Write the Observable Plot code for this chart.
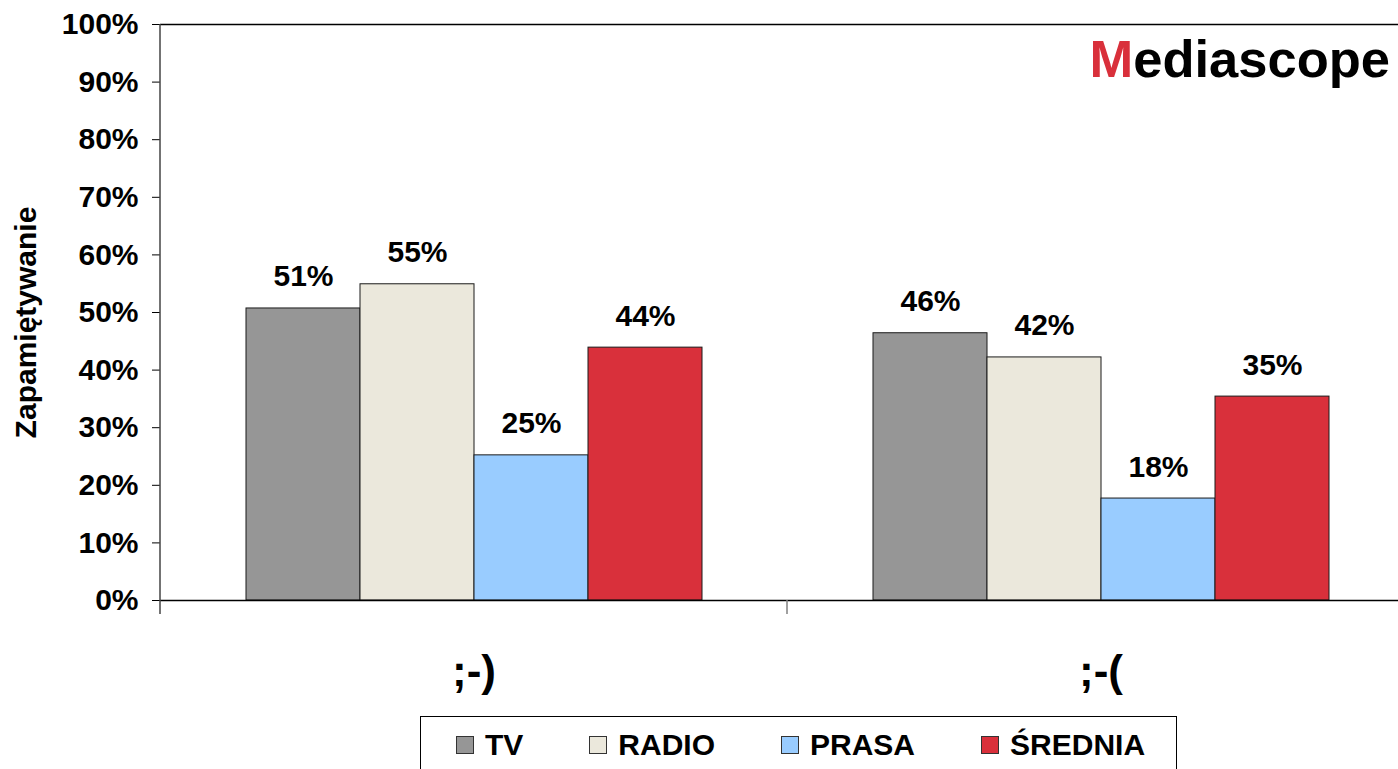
<!DOCTYPE html>
<html>
<head>
<meta charset="utf-8">
<script src="https://cdn.jsdelivr.net/npm/d3@7"></script>
<script src="https://cdn.jsdelivr.net/npm/@observablehq/plot@0.6"></script>
<style>
  html, body { margin: 0; padding: 0; background: #fff; }
  body { width: 1398px; height: 769px; overflow: hidden; position: relative; font-family: Arial, "Liberation Sans", sans-serif; }
  #chart { position: absolute; left: 0; top: 0; }
  #logo { position: absolute; right: 8px; top: 33px; font-size: 52.5px; line-height: 52px; font-weight: bold; color: #000; white-space: nowrap; }
  #legend { position: absolute; left: 420px; top: 716px; width: 757px; height: 80px; box-sizing: border-box; border: 1.5px solid #000;
            display: flex; gap: 66px; padding: 13px 0 0 35px; align-items: flex-start; }
  .item { display: flex; align-items: center; height: 30px; }
  .sw { width: 16px; height: 16px; border: 1px solid #333; margin-right: 11px; }
  .lab { font-size: 30px; line-height: 30px; font-weight: bold; color: #000; }
</style>
</head>
<body>
<div id="chart"></div>
<div id="logo"><span style="color:#d9303b">M</span>ediascope</div>
<div id="legend"></div>
<script>
const categories = [";-)", ";-("];
const series = ["TV", "RADIO", "PRASA", "ŚREDNIA"];
const seriesColors = ["#969696", "#ebe8dc", "#99ccff", "#d9303b"];
const valuesSmile = [50.7, 54.9, 25.2, 43.9];
const valuesFrown = [46.4, 42.2, 17.7, 35.4];
const yTicks = [0, 10, 20, 30, 40, 50, 60, 70, 80, 90, 100];
const yLabel = "Zapamiętywanie";

const valuesByCategory = [valuesSmile, valuesFrown];
const data = categories.flatMap((c, i) =>
  series.map((s, j) => ({category: c, series: s, value: valuesByCategory[i][j]})));

const chart = Plot.plot({
  width: 1414,
  height: 712,
  marginLeft: 160,
  marginRight: 0,
  marginTop: 24,
  marginBottom: 112,
  style: {fontFamily: "Arial, 'Liberation Sans', sans-serif", fontWeight: "bold", color: "#000", background: "transparent", overflow: "visible", maxWidth: "none"},
  fx: {domain: categories, padding: 0, axis: null},
  x: {domain: series, paddingInner: 0, paddingOuter: 0.75, axis: null},
  y: {domain: [0, 100], axis: null},
  color: {domain: series, range: seriesColors},
  marks: [
    Plot.barY(data, {fx: "category", x: "series", y: "value", fill: "series", stroke: "#1a1a1a", strokeWidth: 1}),
    Plot.text(data, {fx: "category", x: "series", y: "value", text: d => Math.round(d.value) + "%",
      dy: -22, lineAnchor: "bottom", fontSize: 30, fontWeight: "bold", fill: "#000"}),
    Plot.ruleY([0], {stroke: "#000", strokeWidth: 1.5}),
    Plot.ruleY([100], {stroke: "#000", strokeWidth: 1.5}),
    Plot.axisY({ticks: yTicks, tickFormat: d => d + "%", tickSize: 8, tickPadding: 14, fontSize: 30,
      fontWeight: "bold", label: null, anchor: "left", stroke: "#000"}),
    Plot.text(categories, {fx: d => d, text: d => d, frameAnchor: "bottom", dy: 85, fontSize: 44,
      fontWeight: "bold", lineAnchor: "bottom", fill: "#000"}),
    Plot.text([yLabel], {fx: () => categories[0], text: d => d, frameAnchor: "left", textAnchor: "middle",
      rotate: -90, dx: -134, dy: 10, fontSize: 30, fontWeight: "bold", fill: "#000"})
  ]
});
chart.style.maxWidth = "none";
chart.style.height = "712px";
document.getElementById("chart").appendChild(chart);

// axis line and category separator ticks, positioned through the plot's own scales
const fxS = chart.scale("fx"), yS = chart.scale("y");
const fxBand = d3.scaleBand().domain(fxS.domain).range(fxS.range).padding(0);
const fxAt = c => (fxS.apply ? fxS.apply(c) : fxBand(c));
const bw = fxS.bandwidth != null ? fxS.bandwidth : fxBand.bandwidth();
const yAt = v => (yS.apply ? yS.apply(v) : d3.scaleLinear(yS.domain, yS.range)(v));
const svg = d3.select(chart);
const g = svg.append("g");
const x0 = fxAt(categories[0]);
g.append("line").attr("x1", x0).attr("x2", x0).attr("y1", yAt(100)).attr("y2", yAt(0) + 14)
  .attr("stroke", "#444").attr("stroke-width", 1.5);
const edges = categories.slice(1).map(fxAt).concat([fxAt(categories[categories.length - 1]) + bw]);
edges.forEach(xe => {
  g.append("line").attr("x1", xe).attr("x2", xe).attr("y1", yAt(0)).attr("y2", yAt(0) + 14)
    .attr("stroke", "#808080").attr("stroke-width", 1.5);
});

// legend
const legend = document.getElementById("legend");
series.forEach((s, i) => {
  const it = document.createElement("div");
  it.className = "item";
  it.innerHTML = `<div class="sw" style="background:${seriesColors[i]}"></div><div class="lab">${s}</div>`;
  legend.appendChild(it);
});
</script>
</body>
</html>
